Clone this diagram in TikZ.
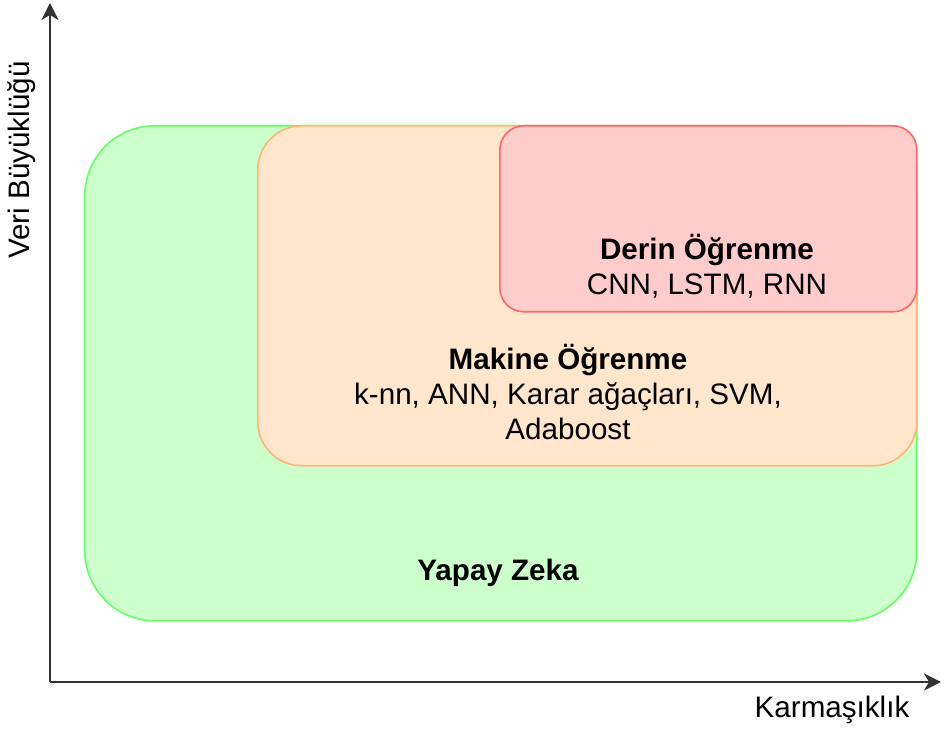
\documentclass[tikz,border=0pt]{standalone}
\usepackage{fontspec}
\setmainfont{Liberation Sans}
\usepackage{xcolor}
\usepackage{tikz}
\usetikzlibrary{arrows.meta,positioning}
\definecolor{aifill}{HTML}{CCFFCC}
\definecolor{ailine}{HTML}{66FF66}
\definecolor{mlfill}{HTML}{FFE6CC}
\definecolor{mlline}{HTML}{FFB570}
\definecolor{dlfill}{HTML}{FFCCCC}
\definecolor{dlline}{HTML}{FF6666}
\definecolor{axisgray}{HTML}{333333}
\tikzset{
  zone/.style={draw, rectangle, anchor=north west, inner sep=0pt, line width=0.8pt},
  axis/.style={draw=axisgray, line width=1.1pt, -{Stealth[length=8.5pt, width=8.5pt, inset=2.5pt]}},
  txt/.style={font=\fontsize{14.8}{17.7}\selectfont, align=center, inner sep=0pt},
  head/.style={txt, font=\fontsize{14.8}{17.7}\selectfont\bfseries}
}

\begin{document}
\begin{tikzpicture}[x=0.5pt, y=-0.5pt]
\useasboundingbox (0,0) rectangle (941,731);
% axes
\coordinate (o) at (50,682);
\coordinate (ytip) at (50,3);
\coordinate (xtip) at (941,682);
\draw[axis] (o) -- (ytip);
\draw[axis] (o) -- (xtip);
\node[txt, rotate=90] (ylab) at (22,160) {Veri Büyüklüğü};
\node[txt] (xlab) at (832,710) {Karmaşıklık};
% nested areas
\node[zone, draw=ailine, fill=aifill, rounded corners=35pt,
  minimum width=416pt, minimum height=247.5pt] (ai) at (84,125) {};
\node[zone, draw=mlline, fill=mlfill, rounded corners=22pt,
  minimum width=329.5pt, minimum height=170pt] (ml) at (257,125) {};
\node[zone, draw=dlline, fill=dlfill, rounded corners=12pt,
  minimum width=208.5pt, minimum height=93pt] (dl) at (499,125) {};
\node[txt] (dltxt) at (707,266) {\textbf{Derin Öğrenme}\\CNN, LSTM, RNN};
\node[txt] (mltxt) at (568,392) {\textbf{Makine Öğrenme}\\k-nn, ANN, Karar ağaçları, SVM,\\Adaboost};
\node[head] (aitxt) at (498,573) {Yapay Zeka};
\end{tikzpicture}
\end{document}
